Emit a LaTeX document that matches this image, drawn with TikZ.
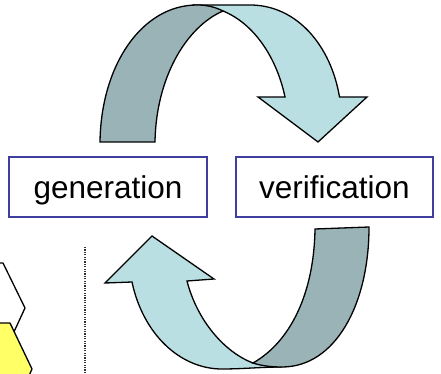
\documentclass[tikz,border=0pt]{standalone}
\usepackage{fontspec}
\setmainfont{Liberation Sans}
\definecolor{lightband}{HTML}{BADFE3}
\definecolor{darkband}{HTML}{99B3B7}
\definecolor{boxedge}{HTML}{3F3F9F}
\definecolor{hexyellow}{HTML}{FFFF66}
\tikzset{
  band/.style={draw=black,line width=1.3pt,line join=miter},
  labelbox/.style={draw=boxedge,line width=1.3pt,fill=white,minimum width=198pt,inner sep=0pt,text height=41pt,text depth=19pt,font=\fontsize{31.5}{36}\selectfont},
  hexa/.style={draw=black,line width=1.3pt,line join=round}
}
\begin{document}
\begin{tikzpicture}[x=1pt,y=-1pt]
\useasboundingbox (0,0) rectangle (441,374);
\begin{scope}
\clip (0,0) rectangle (441,374);
% left hexagons
\draw[hexa,fill=white] (0,263) -- (3,263) -- (25,308) -- (13,334) -- (0,334);
\draw[hexa,fill=hexyellow] (-3,323) -- (10,323) -- (32,369) -- (28,378) -- (-3,378) -- cycle;
% dotted divider
\coordinate (divtop) at (85,247);
\coordinate (divend) at (85,374);
\draw[black!80,line width=1.2pt,dash pattern=on 1.2pt off 1.2pt] (divtop) -- (divend);
% top arrow
\draw[band,fill=lightband] (197,5) -- (250,5)
  .. controls (297,5) and (331,46) .. (339.5,97)
  -- (367,97) -- (318,142) -- (258,97) -- (285,97)
  .. controls (277,59) and (255,24) .. (223,11) -- cycle;
\draw[band,fill=darkband] (100,142)
  .. controls (101,65) and (142,5) .. (197,5)
  .. controls (207,5) and (215,7) .. (223,11)
  .. controls (186,27) and (156,78) .. (155,142) -- cycle;
% bottom arrow
\draw[band,fill=lightband] (152,236) -- (214,279) -- (187,281)
  .. controls (197,320) and (224,352) .. (253,363)
  -- (282,367) .. controls (262,367) and (242,369) .. (222,369)
  .. controls (180,369) and (143,334) .. (132,282)
  -- (105,283) -- cycle;
\draw[band,fill=darkband] (315,229) -- (369,227)
  .. controls (369,305) and (335,367) .. (282,367)
  .. controls (272,367) and (262,366) .. (253,363)
  .. controls (290,342) and (314,294) .. (315,229) -- cycle;
\end{scope}
% labels
\node[labelbox] (gen) at (108,187) {generation};
\node[labelbox,minimum width=197pt] (ver) at (334.5,187) {verification};
\end{tikzpicture}
\end{document}
